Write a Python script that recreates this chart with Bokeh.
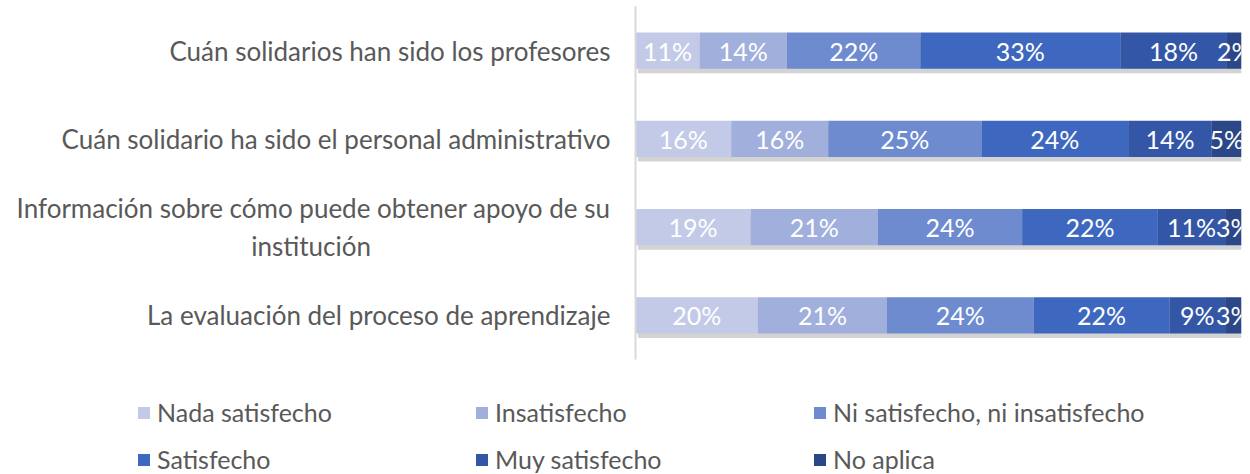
import numpy as np
from bokeh.plotting import figure
from bokeh.models import ColumnDataSource, FactorRange, Range1d, Legend, LegendItem
from bokeh.transform import dodge
from bokeh.core.properties import value
from bokeh.embed import file_html
from bokeh.resources import INLINE

categories = [
    "Cuán solidarios han sido los profesores",
    "Cuán solidario ha sido el personal administrativo",
    "Información sobre cómo puede obtener apoyo de su\ninstitución",
    "La evaluación del proceso de aprendizaje",
]
series = ["Nada satisfecho", "Insatisfecho", "Ni satisfecho, ni insatisfecho",
          "Satisfecho", "Muy satisfecho", "No aplica"]
nada_satisfecho = [10.6, 15.8, 19.0, 20.2]
insatisfecho = [14.4, 16.0, 21.0, 21.3]
ni_satisfecho_ni_insatisfecho = [22.0, 25.3, 23.8, 24.2]
satisfecho = [33.0, 24.2, 22.4, 22.4]
muy_satisfecho = [17.6, 13.8, 11.1, 9.2]
no_aplica = [2.4, 4.9, 2.7, 2.7]
colors = ["#c3cae7", "#a1afdc", "#6e8bd0", "#3e68c0", "#3456a6", "#2b4787"]

values = [nada_satisfecho, insatisfecho, ni_satisfecho_ni_insatisfecho,
          satisfecho, muy_satisfecho, no_aplica]


def centre_lines(label, pad=36):
    # axis labels are right-aligned line by line; pad the wrapped line so it sits centred
    lines = label.split("\n")
    return "\n".join([lines[0]] + [l + "\u00a0" * pad for l in lines[1:]])


factors = [centre_lines(c) for c in categories]

FONT = "Lato"
TEXT = "#595959"
y_range = FactorRange(factors=list(reversed(factors)), range_padding=0)

p = figure(width=1250, height=360, y_range=y_range, x_range=Range1d(0, 100),
           output_backend="svg", toolbar_location=None, x_axis_location=None,
           min_border_left=635, min_border_right=9, min_border_top=6,
           min_border_bottom=1)
p.outline_line_color = None
p.grid.visible = False

yax = p.yaxis[0]
yax.axis_line_color = "#d9d9d9"
yax.axis_line_width = 2
yax.major_tick_line_color = None
yax.minor_tick_line_color = None
yax.major_label_standoff = 19
yax.major_label_text_font = FONT
yax.major_label_text_font_size = "26px"
yax.major_label_text_color = TEXT

arr = np.array(values)
lefts = np.vstack([np.zeros(arr.shape[1]), np.cumsum(arr, axis=0)[:-1]])
rights = lefts + arr

# soft shadow under each bar
shadow_src = ColumnDataSource(dict(y=factors, left=lefts[0] + 0.4, right=rights[-1] + 0.4))
p.hbar(y=dodge("y", -0.05, range=y_range), left="left", right="right", height=0.41,
       source=shadow_src, fill_color="#808080", fill_alpha=0.35, line_color=None)

# legend strip: a second root whose frame spans the full width
lg = figure(width=1250, height=114, x_range=Range1d(0, 100), y_range=FactorRange(factors=factors),
            output_backend="svg", toolbar_location=None,
            x_axis_location=None, y_axis_location=None,
            min_border_left=0, min_border_right=0, min_border_top=0, min_border_bottom=0)
lg.outline_line_color = None
lg.grid.visible = False

items = []
for i, name in enumerate(series):
    src = ColumnDataSource(dict(
        y=factors, left=lefts[i], right=rights[i],
        mid=(lefts[i] + rights[i]) / 2,
        label=[f"{v:.0f}%" for v in arr[i]],
    ))
    p.hbar(y="y", left="left", right="right", height=0.41, source=src,
           fill_color=colors[i], line_color=None)
    p.text(x="mid", y="y", text="label", source=src, text_color="white",
           text_align="center", text_baseline="middle",
           text_font=value(FONT), text_font_size="25px")
    # zero-height copies in the legend strip supply the legend swatches
    r = lg.hbar(y="y", left="left", right="right", height=0, source=src,
                fill_color=colors[i], line_color=None)
    items.append(LegendItem(label=name, renderers=[r]))

legend = Legend(items=items, ncols=3, location=(136, 0),
                orientation="horizontal",
                glyph_width=15, glyph_height=15, label_height=22,
                label_standoff=6, label_width=300, spacing=17,
                padding=0, margin=0,
                border_line_color=None, background_fill_alpha=0,
                label_text_font=FONT, label_text_font_size="25px",
                label_text_color=TEXT)
lg.add_layout(legend, "center")

open("out.html", "w").write(file_html([p, lg], INLINE))
